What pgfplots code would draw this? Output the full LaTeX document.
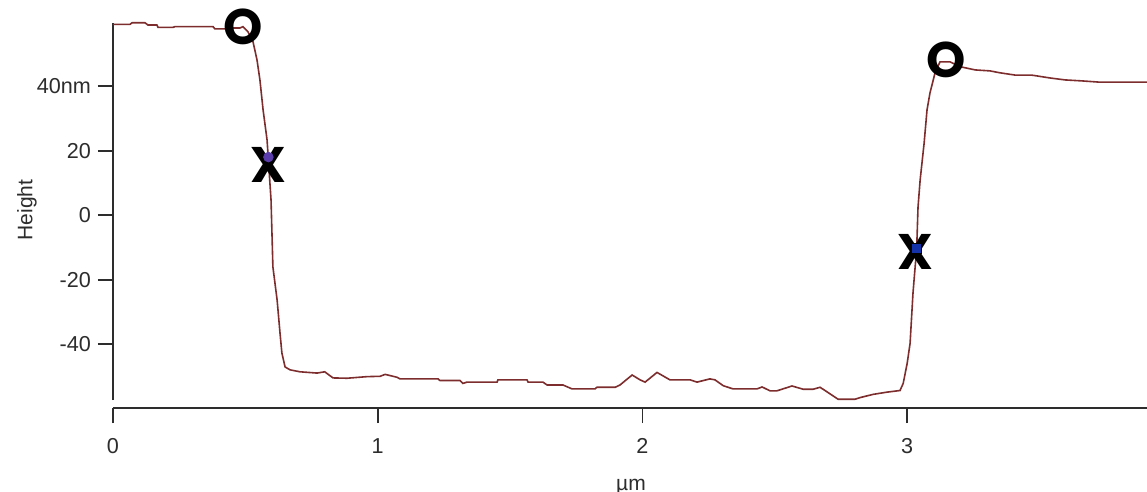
\documentclass[border=0pt]{standalone}
\usepackage{fontspec}
\setmainfont{Liberation Sans}
\newfontfamily\annofont{Poppins}
\usepackage{pgfplots}
\pgfplotsset{compat=1.18}
\definecolor{trace}{RGB}{125,45,45}
\definecolor{axcol}{RGB}{45,45,45}
\definecolor{curA}{RGB}{90,60,170}
\definecolor{curB}{RGB}{20,50,170}

\begin{document}
\begin{tikzpicture}
\useasboundingbox[fill=white] (0,0) rectangle (573.5pt,246pt);
\begin{axis}[
  at={(56.5pt,45.9pt)}, anchor=south west,
  scale only axis, width=517pt, height=188.7pt,
  xmin=0, xmax=3.906, ymin=-57.3, ymax=59.6,
  axis x line=bottom, axis y line=left,
  axis line style={-, draw=axcol, line width=0.9pt},
  axis x line shift=4pt,
  tick align=outside, major tick length=7.5pt,
  tick style={draw=axcol, line width=0.9pt},
  xtick={0,1,2,3}, xticklabels={0,1,2,3},
  ytick={-40,-20,0,20,40}, yticklabels={-40,-20,0,20,40nm},
  ticklabel style={font=\fontsize{10.8}{12}\selectfont, text=axcol},
  xticklabel style={yshift=-4pt},
  xlabel={µm}, ylabel={Height},
  label style={font=\fontsize{10.5}{12}\selectfont, text=axcol},
  xlabel style={at={(rel axis cs:0.501,0)}, anchor=center, yshift=-43.4pt},
  ylabel style={at={(rel axis cs:0,0.504)}, anchor=center, yshift=43pt},
  clip=false,
]
\addplot[trace, line width=0.8pt] coordinates {
(0.000,59.1) (0.064,59.1) (0.072,59.6) (0.121,59.6) (0.132,58.9) (0.166,58.9)
(0.170,58.2) (0.227,58.2) (0.234,58.4) (0.378,58.4) (0.385,57.7) (0.431,57.7)
(0.453,58.0) (0.480,58.0) (0.491,58.4) (0.510,56.8) (0.529,53.7) (0.544,48.1)
(0.555,41.9) (0.567,32.6) (0.582,23.3) (0.587,17.1) (0.597,4.7) (0.604,-16.0)
(0.620,-26.3) (0.631,-36.6) (0.638,-42.7) (0.650,-47.0) (0.669,-47.9) (0.706,-48.5)
(0.771,-48.9) (0.800,-48.5) (0.831,-50.4) (0.884,-50.5) (0.960,-50.0) (1.009,-49.9)
(1.028,-49.3) (1.073,-50.2) (1.084,-50.7) (1.228,-50.7) (1.235,-51.2) (1.311,-51.2)
(1.322,-52.1) (1.337,-51.7) (1.451,-51.7) (1.454,-51.0) (1.564,-51.0) (1.568,-51.7)
(1.624,-51.7) (1.640,-52.6) (1.700,-52.6) (1.734,-53.8) (1.821,-53.8) (1.828,-53.3)
(1.897,-53.3) (1.915,-52.6) (1.961,-49.5) (1.991,-51.0) (2.010,-51.7) (2.055,-48.7)
(2.104,-51.0) (2.180,-51.0) (2.206,-51.7) (2.255,-50.7) (2.274,-51.0) (2.305,-52.8)
(2.342,-53.8) (2.433,-53.8) (2.452,-53.2) (2.482,-54.4) (2.508,-54.4) (2.565,-52.9)
(2.607,-53.9) (2.645,-53.9) (2.671,-53.3) (2.697,-54.7) (2.739,-57.0) (2.803,-57.0)
(2.822,-56.5) (2.871,-55.5) (2.924,-54.8) (2.973,-54.3) (2.985,-52.1) (3.000,-45.9)
(3.011,-39.7) (3.022,-24.1) (3.036,-10.2) (3.041,2.5) (3.049,10.9) (3.064,22.3)
(3.075,32.6) (3.086,37.8) (3.105,44.0) (3.124,47.5) (3.162,47.5) (3.200,46.0)
(3.257,45.0) (3.313,44.7) (3.351,44.1) (3.408,43.4) (3.470,43.4) (3.540,42.5)
(3.597,41.9) (3.660,41.6) (3.729,41.2) (3.906,41.2)
};
\addplot[only marks, mark=*, mark size=2.4pt, color=curA] coordinates {(0.587,18.0)};
\addplot[only marks, mark=square*, mark size=2.6pt, draw=black, fill=curB] coordinates {(3.034,-10.2)};
\node[font=\annofont\bfseries\fontsize{25}{25}\selectfont] at (axis cs:0.491,58.3) {O};
\node[font=\annofont\bfseries\fontsize{25}{25}\selectfont] at (axis cs:0.586,15.5) {X};
\node[font=\annofont\bfseries\fontsize{25}{25}\selectfont] at (axis cs:3.147,48.1) {O};
\node[font=\annofont\bfseries\fontsize{25}{25}\selectfont] at (axis cs:3.030,-11.4) {X};
\end{axis}
\end{tikzpicture}
\end{document}
